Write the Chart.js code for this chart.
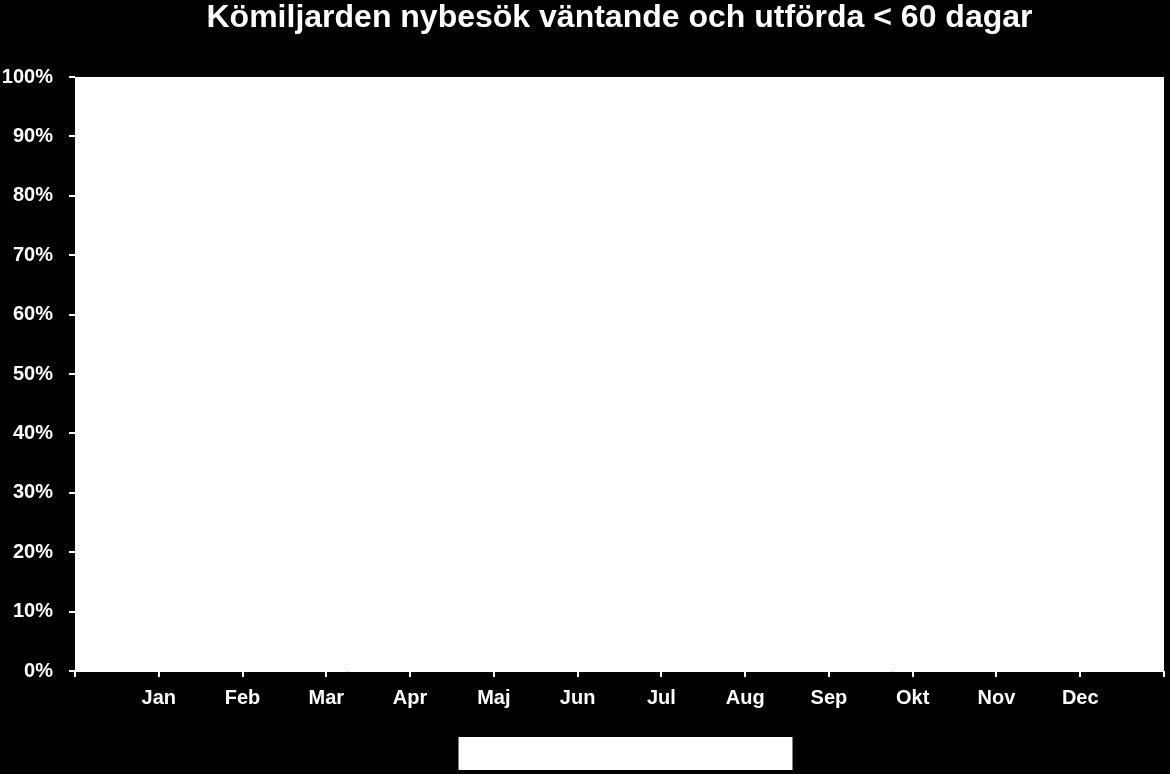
<!DOCTYPE html>
<html>
<head>
<meta charset="utf-8">
<script src="https://cdn.jsdelivr.net/npm/chart.js@4"></script>
<style>
  html, body { margin: 0; padding: 0; background: #000; }
  #wrap { width: 1170px; height: 774px; }
</style>
</head>
<body>
<div id="wrap"><canvas id="queueChart"></canvas></div>
<script>
// chart data
const months = ['Jan', 'Feb', 'Mar', 'Apr', 'Maj', 'Jun', 'Jul', 'Aug', 'Sep', 'Okt', 'Nov', 'Dec'];
// no values plotted in the reference
const within60 = [null, null, null, null, null, null, null, null, null, null, null, null];
const yTicks = [0, 10, 20, 30, 40, 50, 60, 70, 80, 90, 100];

// axis has an empty slot before Jan and after Dec
const labels = [''].concat(months, ['']);
const series = [null].concat(within60, [null]);

const FONT = '"Liberation Sans", Arial, sans-serif';

// white plot area + empty legend box
const plotBg = {
    id: 'plotBg',
    beforeDraw(chart) {
        const { ctx, chartArea } = chart;
        ctx.save();
        ctx.fillStyle = '#fff';
        ctx.fillRect(chartArea.left, chartArea.top, chartArea.right - chartArea.left, chartArea.bottom - chartArea.top);
        const cx = (chartArea.left + chartArea.right) / 2 + 6;
        ctx.fillRect(cx - 167, chartArea.bottom + 66, 334, 33);
        ctx.restore();
    }
};

const ctx = document.getElementById('queueChart').getContext('2d');
new Chart(ctx, {
    type: 'line',
    data: {
        labels: labels,
        datasets: [
            { label: '', data: series, borderColor: '#000080', borderWidth: 2, pointRadius: 0 }
        ]
    },
    options: {
        responsive: true, maintainAspectRatio: false, animation: false,
        layout: { padding: { left: 0, right: 6, top: 0, bottom: 0 } },
        plugins: {
            legend: { display: false },
            tooltip: { enabled: false },
            title: {
                display: true, fullSize: false,
                text: 'Kömiljarden nybesök väntande och utförda < 60 dagar',
                color: '#fff',
                font: { family: FONT, size: 32, weight: 'bold', lineHeight: 1 },
                padding: { top: 2, bottom: 43 }
            }
        },
        scales: {
            x: {
                offset: false,
                grid: { display: true, drawOnChartArea: false, color: '#fff', lineWidth: 2, tickLength: 6 },
                border: { color: '#fff', width: 1 },
                ticks: { color: '#fff', autoSkip: false, maxRotation: 0, padding: 9, font: { family: FONT, size: 20, weight: 'bold' } },
                afterFit(scale) { scale.height = 103; scale.paddingLeft = 0; scale.paddingRight = 0; }
            },
            y: {
                min: 0, max: 100,
                afterBuildTicks(scale) { scale.ticks = yTicks.map(v => ({ value: v })); },
                grid: { display: true, drawOnChartArea: false, color: '#fff', lineWidth: 2, tickLength: 6 },
                border: { color: '#fff', width: 1 },
                ticks: { color: '#fff', padding: 16, font: { family: FONT, size: 20, weight: 'bold' }, callback: v => v + '%' },
                afterFit(scale) { scale.width = 75; }
            }
        }
    },
    plugins: [plotBg]
});
</script>
</body>
</html>
